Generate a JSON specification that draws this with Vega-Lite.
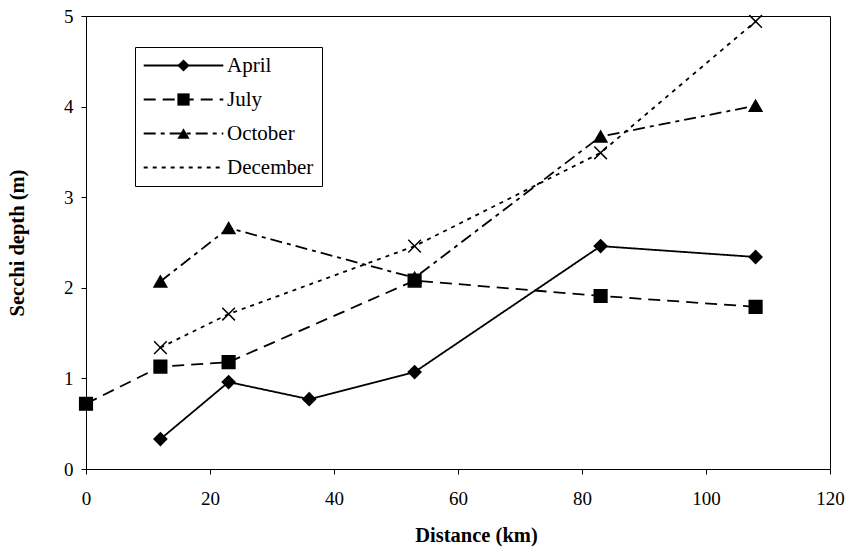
{
  "$schema": "https://vega.github.io/schema/vega-lite/v6.json",
  "width": 744,
  "height": 453,
  "autosize": {"type": "none"},
  "padding": {"left": 86, "top": 16, "right": 21, "bottom": 82},
  "background": "white",
  "config": {
    "font": "Liberation Serif",
    "view": {"stroke": "black", "strokeWidth": 1},
    "axis": {
      "grid": false,
      "labelFlush": false,
      "domainColor": "black",
      "tickColor": "black",
      "tickSize": 5,
      "labelColor": "black",
      "labelFont": "Liberation Serif",
      "labelFontSize": 19,
      "titleFont": "Liberation Serif",
      "titleFontSize": 20.5,
      "titleFontWeight": "bold",
      "titleColor": "black"
    }
  },
  "data": {
    "values": [
      {"month": "April", "dist": 12, "depth": 0.33},
      {"month": "April", "dist": 23, "depth": 0.96},
      {"month": "April", "dist": 36, "depth": 0.77},
      {"month": "April", "dist": 53, "depth": 1.07},
      {"month": "April", "dist": 83, "depth": 2.46},
      {"month": "April", "dist": 108, "depth": 2.34},
      {"month": "July", "dist": 0, "depth": 0.72},
      {"month": "July", "dist": 12, "depth": 1.13},
      {"month": "July", "dist": 23, "depth": 1.18},
      {"month": "July", "dist": 53, "depth": 2.08},
      {"month": "July", "dist": 83, "depth": 1.91},
      {"month": "July", "dist": 108, "depth": 1.79},
      {"month": "October", "dist": 12, "depth": 2.07},
      {"month": "October", "dist": 23, "depth": 2.66},
      {"month": "October", "dist": 53, "depth": 2.11},
      {"month": "October", "dist": 83, "depth": 3.67},
      {"month": "October", "dist": 108, "depth": 4.01},
      {"month": "December", "dist": 12, "depth": 1.34},
      {"month": "December", "dist": 23, "depth": 1.71},
      {"month": "December", "dist": 53, "depth": 2.46},
      {"month": "December", "dist": 83, "depth": 3.49},
      {"month": "December", "dist": 108, "depth": 4.94}
    ]
  },
  "encoding": {
    "x": {
      "field": "dist",
      "type": "quantitative",
      "scale": {"domain": [0, 120], "nice": false, "zero": false},
      "axis": {"values": [0, 20, 40, 60, 80, 100, 120], "labelPadding": 15, "title": "Distance (km)", "titlePadding": 17, "titleX": 390}
    },
    "y": {
      "field": "depth",
      "type": "quantitative",
      "scale": {"domain": [0, 5], "nice": false},
      "axis": {"values": [0, 1, 2, 3, 4, 5], "labelPadding": 8, "title": "Secchi depth (m)", "titlePadding": 36}
    }
  },
  "layer": [
    {
      "mark": {"type": "line", "color": "black", "strokeWidth": 1.8},
      "encoding": {
        "strokeDash": {
          "field": "month",
          "type": "nominal",
          "sort": ["April", "July", "October", "December"],
          "scale": {"range": [[1, 0], [12, 7], [12, 5, 4, 5], [4, 5]]},
          "legend": {
            "title": null,
            "orient": "none",
            "legendX": 49,
            "legendY": 31,
            "padding": 8,
            "strokeColor": "black",
            "symbolType": "M-1.6,0H11.4",
            "symbolSize": 150,
            "symbolStrokeColor": "black",
            "symbolStrokeWidth": 1.8,
            "symbolFillColor": "transparent",
            "labelFont": "Liberation Serif",
            "labelFontSize": 21,
            "labelColor": "black",
            "labelOffset": 63,
            "rowPadding": 12
          }
        }
      }
    },
    {
      "mark": {"type": "point", "filled": true, "color": "black", "stroke": "black", "strokeWidth": 1.5, "size": 160, "opacity": 1},
      "encoding": {
        "shape": {
          "field": "month",
          "type": "nominal",
          "scale": {
            "domain": ["April", "July", "October", "December"],
            "range": ["diamond", "square", "triangle-up", "M-1,-1L1,1M-1,1L1,-1"]
          },
          "legend": {
            "title": null,
            "orient": "none",
            "legendX": 79,
            "legendY": 31,
            "padding": 8,
            "symbolSize": 150,
            "symbolFillColor": "black",
            "symbolStrokeColor": "black",
            "symbolStrokeWidth": 1.5,
            "symbolOpacity": 1,
            "labelFont": "Liberation Serif",
            "labelFontSize": 21,
            "labelExpr": "''",
            "labelOffset": 63,
            "rowPadding": 12
          }
        }
      }
    }
  ]
}
